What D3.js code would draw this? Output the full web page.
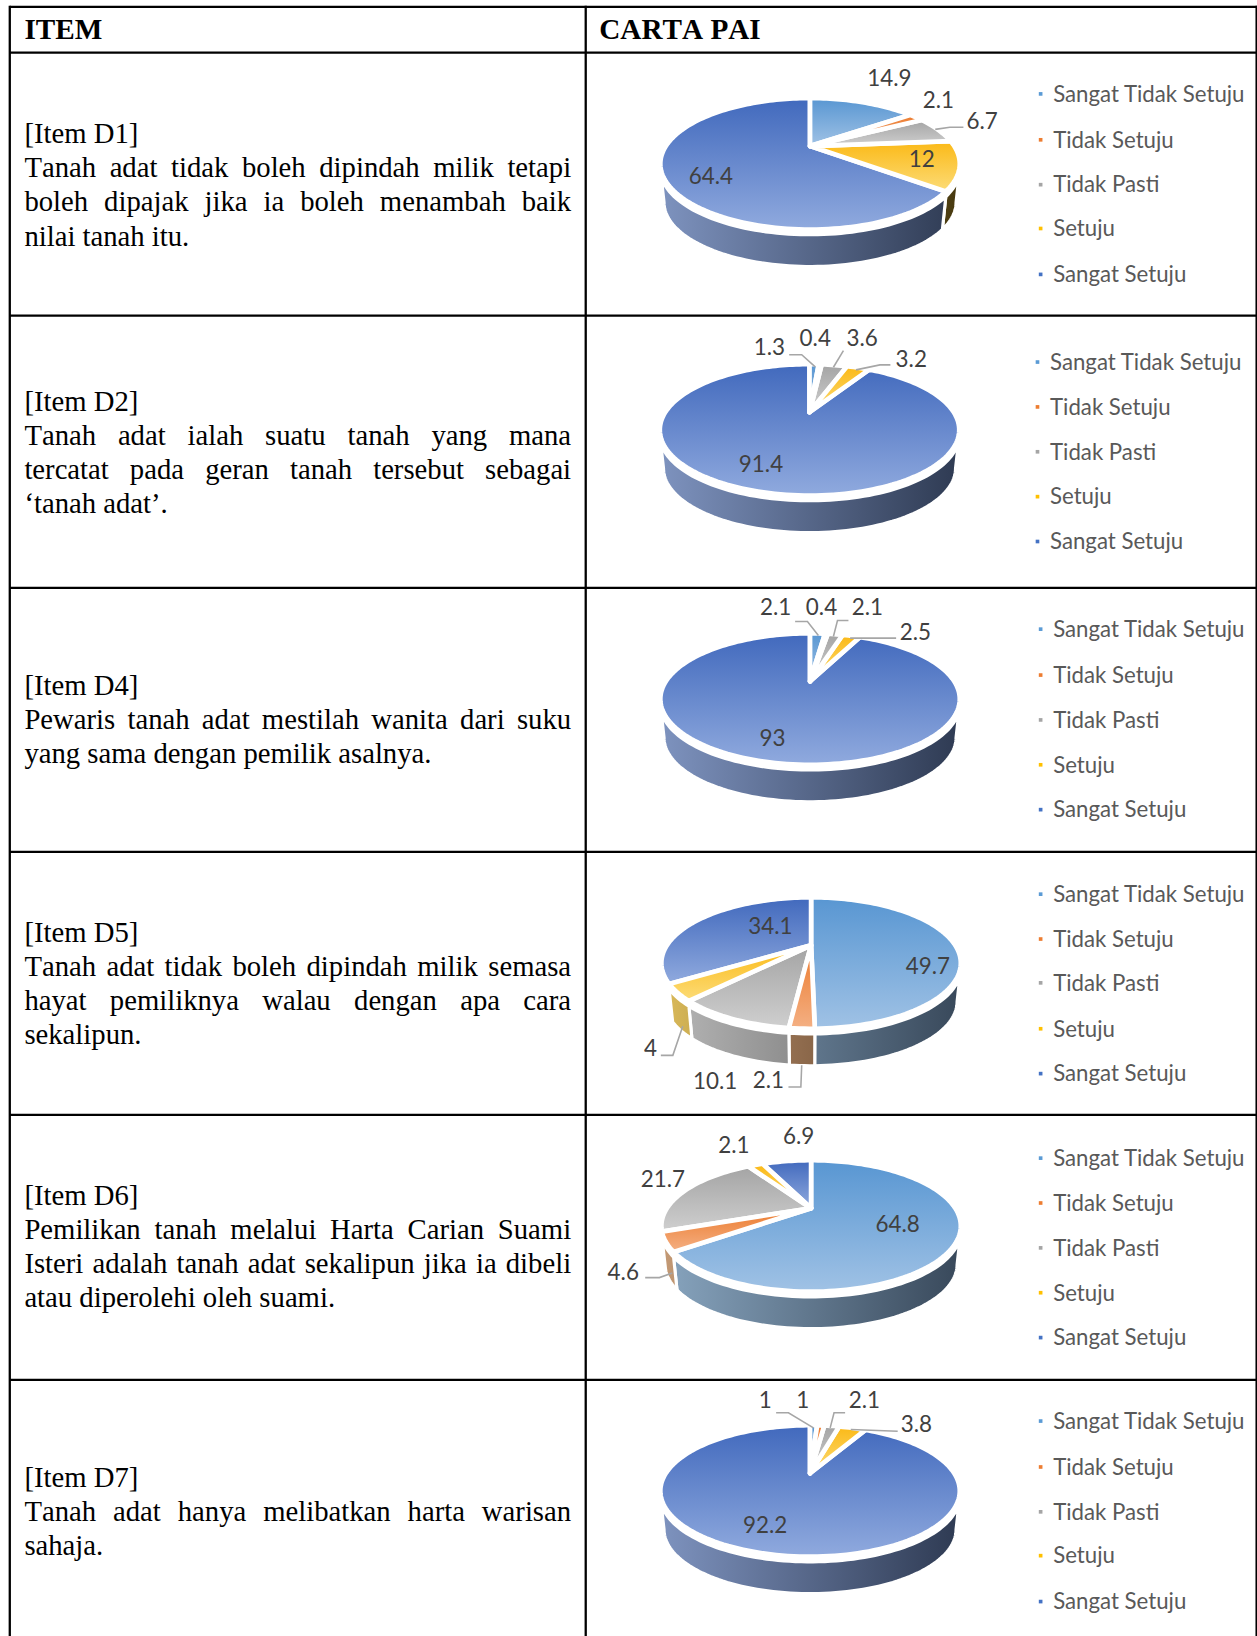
<!DOCTYPE html>
<html>
<head>
<meta charset="utf-8">
<script src="https://cdn.jsdelivr.net/npm/d3@7"></script>
<style>
    html, body { margin: 0; padding: 0; background: #fff; }
    svg { display: block; }
    .cell { font-family: "Liberation Serif", serif; fill: #000; font-kerning: none; }
    .chart { font-family: Lato, sans-serif; }
</style>
</head>
<body>
<svg></svg>
<script>
// --- data ---
const categories = ["Sangat Tidak Setuju", "Tidak Setuju", "Tidak Pasti", "Setuju", "Sangat Setuju"];
const itemIds = ["D1", "D2", "D4", "D5", "D6", "D7"];

const valuesD1 = [14.9, 2.1, 6.7, 12, 64.4];
const valuesD2 = [1.3, 0.4, 3.6, 3.2, 91.4];
const valuesD4 = [2.1, 0.4, 2.1, 2.5, 93];
const valuesD5 = [49.7, 2.1, 10.1, 4, 34.1];
const valuesD6 = [64.8, 4.6, 21.7, 2.1, 6.9];
const valuesD7 = [1, 1, 2.1, 3.8, 92.2];
const allValues = [valuesD1, valuesD2, valuesD4, valuesD5, valuesD6, valuesD7];

const itemText = [
    ["Tanah adat tidak boleh dipindah milik tetapi", "boleh dipajak jika ia boleh menambah baik", "nilai tanah itu."],
    ["Tanah adat ialah suatu tanah yang mana", "tercatat pada geran tanah tersebut sebagai", "‘tanah adat’."],
    ["Pewaris tanah adat mestilah wanita dari suku", "yang sama dengan pemilik asalnya."],
    ["Tanah adat tidak boleh dipindah milik semasa", "hayat pemiliknya walau dengan apa cara", "sekalipun."],
    ["Pemilikan tanah melalui Harta Carian Suami", "Isteri adalah tanah adat sekalipun jika ia dibeli", "atau diperolehi oleh suami."],
    ["Tanah adat hanya melibatkan harta warisan", "sahaja."]
];

// --- layout (units are the 1204 wide drawing space) ---
const W = 1204, H = 1568;
const rowLines = [50.5, 302.5, 563.5, 816.5, 1068.5, 1322.5];
const textY = [137.5, 394, 666, 902.5, 1155, 1425];
const pieCx = [776, 775.5, 776, 777, 777, 776];
const pieCy = [157, 412, 670, 923, 1175, 1429];
const legendX = [997, 994, 997, 997, 997, 997];
const legendY = [
    [90, 134, 177, 219, 263],
    [347, 390, 433, 476, 519],
    [603, 647, 690, 733, 776],
    [857, 900, 942, 986, 1029],
    [1110, 1153, 1196, 1239, 1282],
    [1362, 1406, 1449, 1491, 1535]
];
// label anchor for each slice, in slice order
const labelPos = [
    [[852, 75], [899, 96], [941, 116], [883, 153], [681, 169]],
    [[737, 333], [781, 324], [826, 324], [873, 344], [729, 445]],
    [[743, 582], [787, 582], [831, 582], [877, 606], [740, 707]],
    [[889, 926], [736, 1035], [685, 1036], [623, 1005], [738, 888]],
    [[860, 1173], [597, 1219], [635, 1130], [703, 1098], [765, 1089]],
    [[733, 1342], [769, 1342], [828, 1342], [878, 1365], [733, 1462]]
];
const leaders = [
    [[[896, 124], [910, 122], [923, 122]]],
    [[[756, 340], [768, 340], [781, 351.6]], [[808, 336], [798.4, 352]], [[853, 349.7], [843, 349.7], [820, 354.5]]],
    [[[761.7, 595.6], [773.5, 595.6], [784, 609]], [[812.8, 594.7], [802.3, 594.7], [798.4, 610]], [[858.5, 611.6], [814.4, 611.6]]],
    [[[633, 1011.5], [644.5, 1011.5], [654, 983.7]], [[755.3, 1041.8], [767.2, 1041.8], [768, 1021]]],
    [[[618, 1224.5], [631.6, 1224.5], [644, 1220]]],
    [[[743.5, 1354], [755.3, 1354], [779.3, 1368.5]], [[809.6, 1354], [799, 1354], [795.3, 1368.5]], [[860, 1371.8], [815, 1370]]]
];

// top gradient (rim side, front side), wall gradient (left, right), legend swatch
const topColors = [["#5896d2", "#a0c2e5"], ["#ec7a2c", "#f4b084"], ["#a4a4a4", "#cfcfcf"], ["#fbb916", "#fcdc78"], ["#4169bd", "#90aade"]];
const wallColors = [["#88a5bf", "#38485a"], ["#c49a75", "#52351f"], ["#b8b8b8", "#585858"], ["#dcbb5a", "#46380f"], ["#7e93bf", "#2e3a52"]];
const swatch = ["#5b9bd5", "#ed7d31", "#a5a5a5", "#ffc000", "#4472c4"];

// --- pie projection: the top face is a circle seen in perspective ---
const rx = 143.5, ry = 63, apexUp = 17, wallH = 37, wallShrink = 0.975, rimGap = 5;
const c = apexUp / ry;
const g = rx * Math.sqrt(1 - c * c);
// only this part of the rim has a wall facing the viewer
const wallFrom = Math.acos(-c), wallTo = 2 * Math.PI - wallFrom;

function project(theta, rho = 1) {
    const s = rho * Math.sin(theta), t = -rho * Math.cos(theta);
    const d = 1 - c * t;
    return [g * s / d, (ry * t - apexUp) / d];
}
function arcPoints(a0, a1) {
    const n = Math.max(2, Math.ceil((a1 - a0) / 0.03));
    return d3.range(n + 1).map(i => a0 + (a1 - a0) * i / n);
}
// slices that lean backwards hide their wall behind the neighbours
function hasWall(d) {
    const mid = (d.startAngle + d.endAngle) / 2;
    return d.endAngle > wallFrom && d.startAngle < wallTo && (mid > wallFrom - 0.3 && mid < wallTo);
}

const svg = d3.select("svg")
    .attr("width", 1257)
    .attr("height", 1636)
    .attr("viewBox", `0 0 ${W} ${H}`);

const defs = svg.append("defs");
topColors.forEach((cols, i) => {
    const lg = defs.append("linearGradient").attr("id", "top" + i)
        .attr("x1", 0).attr("y1", 0).attr("x2", 0).attr("y2", 1);
    lg.append("stop").attr("offset", 0).attr("stop-color", cols[0]);
    lg.append("stop").attr("offset", 1).attr("stop-color", cols[1]);
});
wallColors.forEach((cols, i) => {
    const lg = defs.append("linearGradient").attr("id", "wall" + i)
        .attr("gradientUnits", "userSpaceOnUse")
        .attr("x1", -rx).attr("y1", 0).attr("x2", rx).attr("y2", 0);
    lg.append("stop").attr("offset", 0).attr("stop-color", cols[0]);
    lg.append("stop").attr("offset", 1).attr("stop-color", cols[1]);
});

// --- table frame ---
const frame = svg.append("g").attr("stroke", "#000").attr("stroke-width", 2.2);
frame.append("line").attr("x1", 9).attr("x2", 1204.5).attr("y1", 6.5).attr("y2", 6.5);
frame.append("line").attr("x1", 9).attr("x2", 9).attr("y1", 5.5).attr("y2", H);
frame.append("line").attr("x1", 561).attr("x2", 561).attr("y1", 5.5).attr("y2", H);
frame.append("line").attr("x1", 1204).attr("x2", 1204).attr("y1", 5.5).attr("y2", H);
frame.selectAll(".row").data(rowLines).join("line")
    .attr("class", "row")
    .attr("x1", 9).attr("x2", 1204.5)
    .attr("y1", d => d).attr("y2", d => d);

svg.append("text").attr("class", "cell").attr("x", 23).attr("y", 37)
    .attr("font-size", 28).attr("font-weight", "bold").text("ITEM");
svg.append("text").attr("class", "cell").attr("x", 574).attr("y", 37)
    .attr("font-size", 28).attr("font-weight", "bold").text("CARTA PAI");

// --- left column text, justified by hand ---
itemIds.forEach((id, i) => {
    const lineH = 32.6;
    svg.append("text").attr("class", "cell").attr("x", 23).attr("y", textY[i])
        .attr("font-size", 27.5).text(`[Item ${id}]`);
    itemText[i].forEach((line, j) => {
        const t = svg.append("text").attr("class", "cell")
            .attr("x", 23).attr("y", textY[i] + lineH * (j + 1))
            .attr("font-size", 27.5).text(line);
        if (j < itemText[i].length - 1) {
            const gaps = line.split(" ").length - 1;
            const extra = (524 - t.node().getComputedTextLength()) / gaps;
            t.attr("word-spacing", extra);
        }
    });
});

// --- pies ---
const pie = d3.pie().sort(null).value(d => d);
const line = d3.line();

allValues.forEach((values, i) => {
    const slices = pie(values).map((d, k) => ({ ...d, k }));
    const gp = svg.append("g").attr("transform", `translate(${pieCx[i]},${pieCy[i]})`);

    const wallPath = d => {
        const angles = arcPoints(Math.max(d.startAngle, wallFrom), Math.min(d.endAngle, wallTo));
        const upper = angles.map(a => { const p = project(a); return [p[0], p[1] + rimGap]; });
        const lower = angles.slice().reverse().map(a => {
            const p = project(a);
            return [p[0] * wallShrink, p[1] * wallShrink + wallH];
        });
        return line(upper.concat(lower)) + "Z";
    };
    const topPath = d => {
        const pts = arcPoints(d.startAngle, d.endAngle).map(a => project(a));
        return line([project(0, 0)].concat(pts)) + "Z";
    };

    gp.selectAll(".wall").data(slices.filter(hasWall)).join("path")
        .attr("class", "wall")
        .attr("d", wallPath)
        .attr("fill", d => `url(#wall${d.k})`)
        .attr("stroke", "#fff")
        .attr("stroke-width", 3);

    // biggest slice first so thin ones sit on top of its edge
    gp.selectAll(".top").data(slices.slice().sort((a, b) => b.value - a.value)).join("path")
        .attr("class", "top")
        .attr("d", topPath)
        .attr("fill", d => `url(#top${d.k})`)
        .attr("stroke", "#fff")
        .attr("stroke-width", 4.5)
        .attr("stroke-linejoin", "round");

    // leader lines
    svg.append("g").selectAll("path").data(leaders[i]).join("path")
        .attr("d", d => line(d))
        .attr("fill", "none")
        .attr("stroke", "#a6a6a6")
        .attr("stroke-width", 1.5);

    // value labels
    svg.append("g").attr("class", "chart").selectAll("text").data(values).join("text")
        .attr("x", (d, k) => labelPos[i][k][0])
        .attr("y", (d, k) => labelPos[i][k][1])
        .attr("dy", "0.35em")
        .attr("text-anchor", "middle")
        .attr("font-size", 21.5)
        .attr("fill", "#404040")
        .text(d => d);

    // legend
    const leg = svg.append("g").attr("class", "chart").selectAll("g").data(categories).join("g")
        .attr("transform", (d, k) => `translate(${legendX[i]},${legendY[i][k]})`);
    leg.append("rect").attr("x", -1.75).attr("y", -1.75).attr("width", 3.5).attr("height", 3.5)
        .attr("fill", (d, k) => swatch[k]);
    leg.append("text").attr("x", 12).attr("dy", "0.35em")
        .attr("font-size", 21.3)
        .attr("fill", "#595959")
        .text(d => d);
});
</script>
</body>
</html>
